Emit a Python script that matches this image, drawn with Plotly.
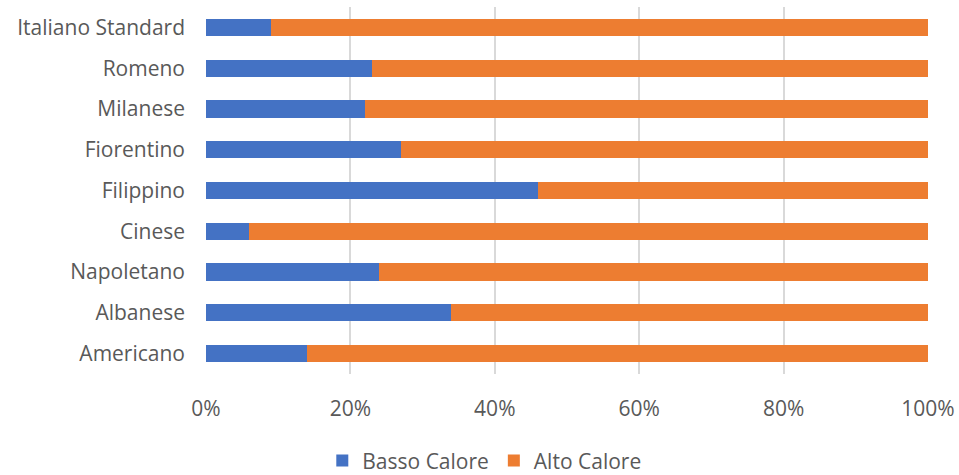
import plotly.graph_objects as go

categories = ["Americano", "Albanese", "Napoletano", "Cinese", "Filippino",
              "Fiorentino", "Milanese", "Romeno", "Italiano Standard"]
basso = [14, 34, 24, 6, 46, 27, 22, 23, 9]
alto = [100 - b for b in basso]
tick_vals = [0, 20, 40, 60, 80, 100]
tick_text = ["0%", "20%", "40%", "60%", "80%", "100%"]

fig = go.Figure()
fig.add_trace(go.Bar(y=categories, x=basso, name="Basso Calore", orientation="h",
                     marker=dict(color="#4472C4", line=dict(width=0))))
fig.add_trace(go.Bar(y=categories, x=alto, name="Alto Calore", orientation="h",
                     marker=dict(color="#ED7D31", line=dict(width=0))))

font = "Open Sans, Noto Sans, sans-serif"
fig.update_layout(
    barmode="stack",
    bargap=0.58,
    width=959, height=475,
    margin=dict(l=206, r=31, t=7, b=101, autoexpand=False),
    paper_bgcolor="white", plot_bgcolor="white",
    font=dict(family=font, size=21, color="#595959"),
    legend=dict(orientation="h", xref="container", yref="container",
                x=0.505, y=0.03, xanchor="center", yanchor="middle",
                font=dict(size=21, color="#595959"), itemwidth=30,
                traceorder="normal"),
    xaxis=dict(range=[0, 100], tickvals=tick_vals, ticktext=tick_text,
               showgrid=True, gridcolor="#D9D9D9", gridwidth=1.5,
               zeroline=False, showline=False, ticklabelstandoff=20,
               automargin=False, fixedrange=True),
    yaxis=dict(categoryorder="array", categoryarray=categories,
               showgrid=False, zeroline=False, showline=False,
               ticklabelstandoff=20, automargin=False, fixedrange=True),
)

fig.write_html("out.html")
